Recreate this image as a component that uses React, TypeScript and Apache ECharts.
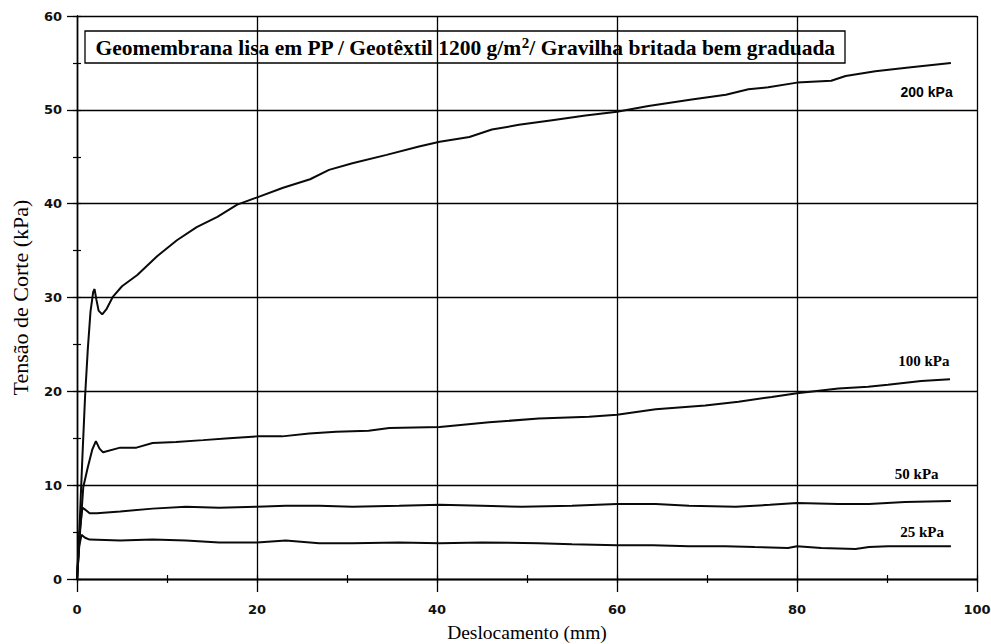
import React, { useEffect, useRef } from "react";
import * as echarts from "echarts";

const xTicks = [0, 20, 40, 60, 80, 100];
const yTicks = [0, 10, 20, 30, 40, 50, 60];

const seriesNames = ["200 kPa", "100 kPa", "50 kPa", "25 kPa"];

const s200: number[][] = [
  [0, 0], [0.3, 6], [0.6, 13], [0.9, 19.5], [1.2, 24.5], [1.5, 28.5], [1.8, 30.6], [1.95, 30.9],
  [2.15, 29.8], [2.4, 28.6], [2.8, 28.2], [3.3, 28.8], [4.0, 30.1], [5.0, 31.2], [6.7, 32.4],
  [8.9, 34.4], [11.1, 36.1], [13.3, 37.5], [15.6, 38.6], [17.8, 39.9], [20.1, 40.7], [22.9, 41.7],
  [25.9, 42.6], [28.0, 43.6], [30.6, 44.3], [34.4, 45.2], [38.0, 46.1], [40.3, 46.6], [43.6, 47.1],
  [46.1, 47.9], [49.1, 48.4], [52.8, 48.9], [56.5, 49.4], [60.0, 49.8], [63.5, 50.4], [68.3, 51.1],
  [72.1, 51.6], [74.6, 52.2], [76.8, 52.4], [80.0, 52.9], [83.8, 53.1], [85.4, 53.6], [88.7, 54.1],
  [92.4, 54.5], [97.1, 55.0],
];

const s100: number[][] = [
  [0, 0], [0.3, 4.5], [0.7, 9.8], [1.2, 11.9], [1.7, 13.8], [2.1, 14.7], [2.5, 13.9], [2.9, 13.5],
  [4.8, 14.0], [6.6, 14.0], [8.4, 14.5], [11.0, 14.6], [14.0, 14.8], [16.9, 15.0], [20.0, 15.2],
  [22.8, 15.2], [25.8, 15.5], [28.8, 15.7], [32.4, 15.8], [34.7, 16.1], [40.3, 16.2], [45.8, 16.7],
  [51.3, 17.1], [56.9, 17.3], [60.0, 17.5], [64.3, 18.1], [69.8, 18.5], [73.5, 18.9], [77.2, 19.4],
  [80.0, 19.8], [84.6, 20.3], [87.9, 20.5], [90.1, 20.7], [93.8, 21.1], [97.0, 21.3],
];

const s50: number[][] = [
  [0, 0], [0.3, 5.0], [0.6, 7.6], [0.9, 7.4], [1.4, 7.0], [2.2, 7.0], [4.8, 7.2], [8.4, 7.5],
  [12.1, 7.7], [15.8, 7.6], [20.0, 7.7], [23.2, 7.8], [26.9, 7.8], [30.6, 7.7], [35.8, 7.8],
  [40.3, 7.9], [45.0, 7.8], [49.4, 7.7], [55.0, 7.8], [60.0, 8.0], [64.3, 8.0], [68.0, 7.8],
  [73.2, 7.7], [77.0, 7.9], [80.0, 8.1], [84.6, 8.0], [88.0, 8.0], [92.0, 8.2], [97.1, 8.3],
];

const s25: number[][] = [
  [0, 0], [0.25, 3.5], [0.5, 4.7], [0.9, 4.4], [1.4, 4.2], [4.8, 4.1], [8.4, 4.2], [12.1, 4.1],
  [15.8, 3.9], [20.0, 3.9], [23.2, 4.1], [26.9, 3.8], [30.6, 3.8], [35.8, 3.9], [40.3, 3.8],
  [45.0, 3.9], [51.3, 3.8], [55.0, 3.7], [60.0, 3.6], [64.0, 3.6], [68.0, 3.5], [72.0, 3.5],
  [75.3, 3.4], [79.0, 3.3], [80.0, 3.5], [82.7, 3.3], [86.5, 3.2], [88.0, 3.4], [90.1, 3.5],
  [94.0, 3.5], [97.1, 3.5],
];

const seriesData = [s200, s100, s50, s25];
const labelCoords: number[][] = [
  [94.4, 51.9],
  [94.1, 23.2],
  [93.3, 11.2],
  [93.9, 5.0],
];

const titlePre = "Geomembrana lisa em PP / Geotêxtil 1200 g/m";
const titleSup = "2";
const titlePost = "/ Gravilha britada bem graduada";

export default function App() {
  const ref = useRef<HTMLDivElement>(null);
  useEffect(() => {
    if (!ref.current) return;
    const chart = echarts.init(ref.current, null, { renderer: "svg" });
    const black = "#000";
    const tickFont = {
      fontFamily: "DejaVu Sans",
      fontWeight: "bold" as const,
      fontSize: 13,
      color: "#111",
    };
    const xMin = xTicks[0];
    const xMax = xTicks[xTicks.length - 1];
    const yMin = yTicks[0];
    const yMax = yTicks[yTicks.length - 1];
    const option: any = {
      animation: false,
      backgroundColor: "#fff",
      grid: { left: 77, right: 14, top: 16, bottom: 65, containLabel: false, outerBoundsMode: "none" },
      xAxis: [
        {
          type: "value",
          position: "bottom",
          min: xMin,
          max: xMax,
          interval: 20,
          name: "Deslocamento (mm)",
          nameLocation: "middle",
          nameGap: 43,
          nameTextStyle: { fontFamily: "Liberation Serif", fontSize: 19.5, color: "#000", verticalAlign: "top" },
          axisLine: { show: true, lineStyle: { color: black, width: 1.3 } },
          axisTick: { show: true, inside: false, length: 13, lineStyle: { color: black, width: 1.3 } },
          axisLabel: { ...tickFont, margin: 24 },
          splitLine: { show: true, lineStyle: { color: black, width: 1.3 } },
        },
        {
          type: "value",
          position: "bottom",
          min: xMin,
          max: xMax,
          interval: 10,
          axisLine: { show: false },
          axisTick: { show: true, inside: true, length: 4, lineStyle: { color: black, width: 1.2 } },
          axisLabel: { show: false },
          splitLine: { show: false },
        },
        {
          type: "value",
          position: "top",
          min: xMin,
          max: xMax,
          interval: 10,
          axisLine: { show: true, lineStyle: { color: black, width: 1.3 } },
          axisTick: { show: true, inside: true, length: 4, lineStyle: { color: black, width: 1.2 } },
          axisLabel: { show: false },
          splitLine: { show: false },
        },
      ],
      yAxis: [
        {
          type: "value",
          position: "left",
          min: yMin,
          max: yMax,
          interval: 10,
          name: "Tensão de Corte (kPa)",
          nameLocation: "middle",
          nameGap: 46,
          nameRotate: 90,
          nameTextStyle: { fontFamily: "Liberation Serif", fontSize: 22, color: "#000" },
          axisLine: { show: true, lineStyle: { color: black, width: 1.3 } },
          axisTick: { show: true, inside: false, length: 10, lineStyle: { color: black, width: 1.3 } },
          axisLabel: { ...tickFont, margin: 15 },
          splitLine: { show: true, lineStyle: { color: black, width: 1.3 } },
        },
        {
          type: "value",
          position: "left",
          min: yMin,
          max: yMax,
          interval: 5,
          axisLine: { show: false },
          axisTick: { show: true, inside: true, length: 4, lineStyle: { color: black, width: 1.2 } },
          axisLabel: { show: false },
          splitLine: { show: false },
        },
        {
          type: "value",
          position: "right",
          min: yMin,
          max: yMax,
          interval: 5,
          axisLine: { show: true, lineStyle: { color: black, width: 1.3 } },
          axisTick: { show: true, inside: true, length: 4, lineStyle: { color: black, width: 1.2 } },
          axisLabel: { show: false },
          splitLine: { show: false },
        },
      ],
      series: seriesData.map((d, i) => ({
        type: "line",
        name: seriesNames[i],
        xAxisIndex: 0,
        yAxisIndex: 0,
        data: d,
        showSymbol: false,
        symbol: "none",
        smooth: false,
        lineStyle: { color: "#0a0a0a", width: 2 },
        z: 3,
        markPoint: {
          symbol: "circle",
          symbolSize: 0,
          silent: true,
          data: [
            {
              coord: labelCoords[i],
              label: {
                show: true,
                position: "inside",
                formatter: seriesNames[i],
                fontFamily: i === 0 ? "Liberation Sans" : "Liberation Serif",
                fontWeight: "bold",
                fontSize: i === 0 ? 14 : 15,
                color: "#000",
              },
            },
          ],
        },
      })),
      graphic: [
        {
          type: "group",
          z: 100,
          children: [
            {
              type: "rect",
              shape: { x: 85, y: 31, width: 760, height: 32 },
              style: { fill: "#fff", stroke: "#000", lineWidth: 1.3 },
            },
            {
              type: "text",
              x: 465,
              y: 48,
              style: {
                text: `{a|${titlePre}}{s|${titleSup}}{a|${titlePost}}`,
                align: "center",
                verticalAlign: "middle",
                rich: {
                  a: { fontFamily: "Liberation Serif", fontWeight: "bold", fontSize: 21.5, fill: "#000", lineHeight: 26 },
                  s: { fontFamily: "Liberation Serif", fontWeight: "bold", fontSize: 15, fill: "#000", lineHeight: 26, padding: [0, 0, 11, 0] },
                },
              },
            },
          ],
        },
      ],
    };
    chart.setOption(option);
    return () => chart.dispose();
  }, []);
  return (
    <div
      ref={ref}
      style={{ position: "fixed", left: 0, top: 0, width: 991, height: 644, background: "#fff" }}
    />
  );
}
